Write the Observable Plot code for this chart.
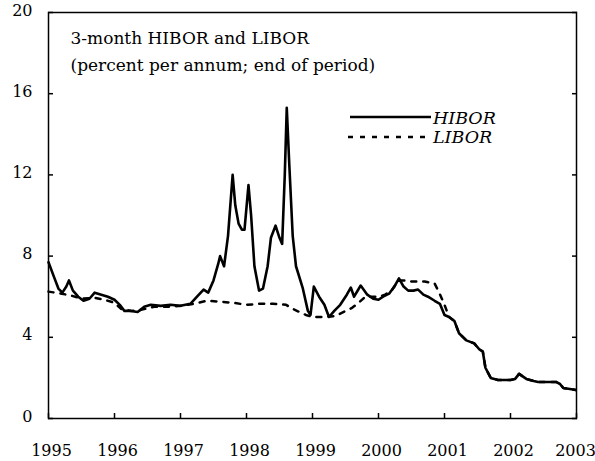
<!DOCTYPE html>
<html><head><meta charset="utf-8">
<script src="https://cdn.jsdelivr.net/npm/d3@7"></script>
<script src="https://cdn.jsdelivr.net/npm/@observablehq/plot@0.6"></script>
<style>body{margin:0;background:#fff} svg text{font-family:"DejaVu Serif",serif !important;}</style>
</head><body><div id="chart"></div>
<script>
// 3-month HIBOR (decimal year, percent)
const hiborT = [1995.00,1995.08,1995.15,1995.21,1995.27,1995.31,1995.37,1995.45,1995.53,1995.62,1995.70,1995.80,1995.90,
  1996.00,1996.08,1996.15,1996.25,1996.35,1996.45,1996.55,1996.70,1996.85,
  1997.00,1997.15,1997.25,1997.35,1997.42,1997.50,1997.57,1997.60,1997.66,1997.72,1997.79,1997.83,1997.88,1997.93,1997.97,
  1998.03,1998.07,1998.12,1998.19,1998.25,1998.32,1998.37,1998.44,1998.50,1998.54,1998.58,1998.61,1998.65,1998.70,1998.75,1998.85,1998.93,1998.97,
  1999.02,1999.10,1999.18,1999.25,1999.33,1999.42,1999.52,1999.58,1999.63,1999.73,1999.83,1999.92,
  2000.00,2000.07,2000.16,2000.24,2000.31,2000.38,2000.45,2000.53,2000.60,2000.68,2000.75,2000.85,2000.93,
  2001.00,2001.07,2001.15,2001.22,2001.33,2001.45,2001.53,2001.58,2001.62,2001.70,2001.81,
  2002.00,2002.07,2002.13,2002.24,2002.35,2002.42,2002.55,2002.69,2002.75,2002.80,2002.90,2002.99];
const hiborV = [7.7,7.0,6.4,6.2,6.5,6.8,6.3,6.0,5.8,5.9,6.2,6.1,6.0,
  5.85,5.6,5.3,5.3,5.25,5.5,5.6,5.55,5.6,
  5.55,5.65,6.0,6.35,6.2,6.8,7.6,8.0,7.5,9.0,12.0,10.5,9.6,9.3,9.3,
  11.5,10.0,7.5,6.3,6.4,7.5,8.9,9.5,8.9,8.6,12.0,15.3,12.4,9.0,7.5,6.45,5.3,5.1,
  6.5,6.0,5.6,5.0,5.3,5.6,6.1,6.45,6.0,6.55,6.1,5.9,
  5.85,6.0,6.15,6.5,6.9,6.5,6.3,6.3,6.35,6.1,6.0,5.8,5.65,
  5.1,5.0,4.8,4.2,3.85,3.7,3.4,3.3,2.5,2.0,1.9,
  1.9,1.95,2.2,1.95,1.85,1.8,1.8,1.8,1.7,1.5,1.45,1.4];
// 3-month LIBOR (decimal year, percent)
const liborT = [1995.00,1995.10,1995.20,1995.35,1995.50,1995.70,1995.85,
  1996.00,1996.10,1996.25,1996.40,1996.60,1996.80,
  1997.00,1997.20,1997.40,1997.60,1997.80,
  1998.00,1998.20,1998.40,1998.60,1998.70,1998.80,1998.90,
  1999.00,1999.20,1999.35,1999.50,1999.60,1999.70,1999.80,
  2000.00,2000.10,2000.20,2000.30,2000.40,2000.50,2000.70,2000.85,2000.92,
  2001.00,2001.07,2001.15,2001.22,2001.33,2001.45,2001.53,2001.58,2001.62,2001.70,2001.81,
  2002.00,2002.07,2002.13,2002.24,2002.35,2002.42,2002.55,2002.69,2002.75,2002.80,2002.90,2002.99];
const liborV = [6.25,6.2,6.15,6.05,5.9,5.95,5.85,
  5.7,5.4,5.3,5.35,5.5,5.5,
  5.55,5.65,5.8,5.75,5.7,
  5.6,5.65,5.65,5.6,5.4,5.25,5.1,
  5.0,5.0,5.05,5.3,5.45,5.7,6.0,
  6.0,6.1,6.3,6.8,6.8,6.75,6.75,6.65,6.2,
  5.6,5.0,4.8,4.2,3.85,3.7,3.4,3.3,2.5,2.0,1.9,
  1.9,1.95,2.2,1.95,1.85,1.8,1.8,1.8,1.7,1.5,1.45,1.4];
const yearTicks = [1995,1996,1997,1998,1999,2000,2001,2002,2003];
const yTicks = [0,4,8,12,16,20];
const titleLines = ["3-month HIBOR and LIBOR", "(percent per annum; end of period)"];
const seriesNames = ["HIBOR", "LIBOR"];

const hibor = hiborT.map((t, i) => ({t, v: hiborV[i]}));
const libor = liborT.map((t, i) => ({t, v: liborV[i]}));
const font = "'DejaVu Serif', serif";

const plot = Plot.plot({
  width: 595, height: 461,
  marginLeft: 48, marginRight: 19, marginTop: 12, marginBottom: 43,
  style: {fontFamily: font, fontSize: "16px", background: "#fff", color: "#000"},
  x: {domain: [1995, 2003]},
  y: {domain: [0, 20]},
  marks: [
    Plot.frame({stroke: "#000", strokeWidth: 1.5}),
    Plot.line(libor, {x: "t", y: "v", stroke: "#000", strokeWidth: 2.5, strokeDasharray: "5,7"}),
    Plot.line(hibor, {x: "t", y: "v", stroke: "#000", strokeWidth: 2.6, strokeLinejoin: "round"}),
    Plot.axisX({ticks: yearTicks, tickSize: -5, tickFormat: () => "", label: null, strokeWidth: 1.5}),
    Plot.axisX({ticks: yearTicks.slice(0, -1), tickSize: 0, tickPadding: 26, tickFormat: d => String(d), label: null, dx: 3}),
    Plot.axisX({ticks: yearTicks.slice(-1), tickSize: 0, tickPadding: 26, tickFormat: d => String(d), label: null, dx: -1}),
    Plot.axisY({ticks: yTicks, tickSize: -5, tickFormat: () => "", label: null, strokeWidth: 1.5}),
    Plot.axisY({anchor: "right", ticks: yTicks, tickSize: -5, tickFormat: () => "", label: null, strokeWidth: 1.5}),
    Plot.axisY({ticks: yTicks, tickSize: 0, tickPadding: 16, label: null, dy: -2}),
    Plot.text([titleLines[0]], {text: d => d, frameAnchor: "top-left", textAnchor: "start", lineAnchor: "top", dx: 22, dy: 19, fontSize: 17, letterSpacing: "0.8px"}),
    Plot.text([titleLines[1]], {text: d => d, frameAnchor: "top-left", textAnchor: "start", lineAnchor: "top", dx: 22, dy: 46, fontSize: 17, letterSpacing: "-0.5px"})
  ]
});

// legend
const svg = d3.select(plot).attr("font-family", font);
const lg = svg.append("g");
lg.append("line").attr("x1", 350).attr("x2", 431).attr("y1", 117).attr("y2", 117)
  .attr("stroke", "#000").attr("stroke-width", 2.6);
lg.append("line").attr("x1", 348).attr("x2", 431).attr("y1", 137).attr("y2", 137)
  .attr("stroke", "#000").attr("stroke-width", 2.5).attr("stroke-dasharray", "5,7");
lg.selectAll("text").data(seriesNames).join("text")
  .attr("x", 433).attr("y", (d, i) => 124 + i * 19)
  .attr("text-anchor", "start")
  .attr("font-style", "italic").attr("font-size", 17.5)
  .text(d => d);

document.getElementById("chart").append(plot);
</script>
</body></html>
